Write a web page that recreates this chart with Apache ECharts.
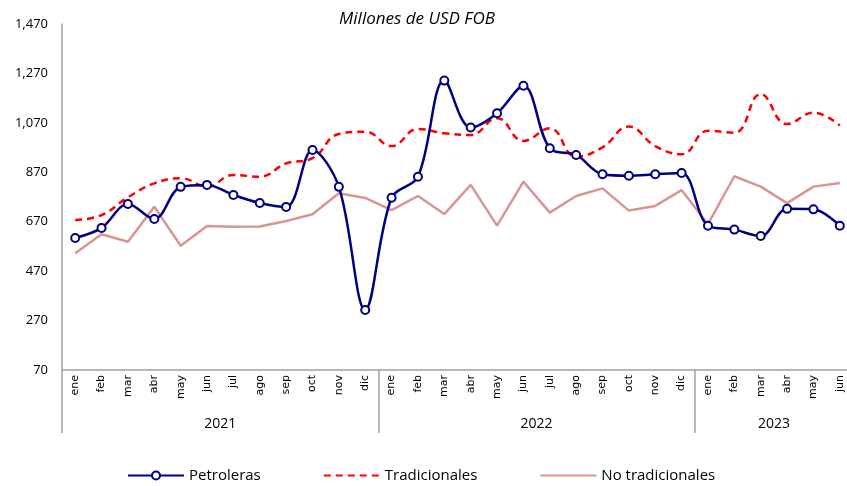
<!DOCTYPE html>
<html>
<head>
<meta charset="utf-8">
<script src="https://cdn.jsdelivr.net/npm/echarts@6/dist/echarts.min.js"></script>
<style>
html,body{margin:0;padding:0;background:#fff;}
#c{width:847px;height:486px;}
</style>
</head>
<body>
<div id="c"></div>
<script>
const months = ['ene','feb','mar','abr','may','jun','jul','ago','sep','oct','nov','dic',
  'ene','feb','mar','abr','may','jun','jul','ago','sep','oct','nov','dic',
  'ene','feb','mar','abr','may','jun'];
const years = ['2021','2022','2023'];
const yearLabelPos = [6, 18, 27];
const yearBounds = [0, 12, 24, 30];
const yTicks = [70, 270, 470, 670, 870, 1070, 1270, 1470];

const petroleras = [604,645,742,681,811,819,778,746,730,960,811,313,
  767,852,1241,1051,1109,1220,967,940,862,856,862,867,
  654,638,612,722,720,654];
const tradicionales = [677,697,769,825,846,812,859,852,906,927,1025,1034,
  976,1045,1028,1021,1089,997,1048,933,971,1055,976,943,
  1038,1030,1186,1065,1111,1059];
const noTradicionales = [542,619,589,731,573,653,650,651,673,700,785,766,
  717,774,701,819,654,832,707,774,805,715,734,798,
  660,854,812,745,812,827];

const chart = echarts.init(document.getElementById('c'), null, {renderer:'canvas'});
const narrow = 'Liberation Sans Narrow, Open Sans, sans-serif';
const hiddenSym = {color:'rgba(0,0,0,0)', borderWidth:0, opacity:0};
chart.setOption({
  animation:false,
  backgroundColor:'#ffffff',
  title:{
    text:'Millones de USD FOB',
    left:412, top:6, textAlign:'center',
    textStyle:{fontFamily:'Open Sans', fontStyle:'italic', fontWeight:'normal', fontSize:17, color:'#000'}
  },
  grid:{left:62, top:24, width:791, height:346, containLabel:false, outerBoundsMode:'none'},
  legend:{
    bottom:-2, left:122,
    itemWidth:56, itemHeight:10, itemGap:62,
    data:[{name:'Petroleras'},
          {name:'Tradicionales', itemStyle:hiddenSym},
          {name:'No tradicionales', itemStyle:hiddenSym}],
    textStyle:{fontFamily:narrow, fontSize:15, color:'#000'}
  },
  xAxis:[{
    type:'category', data:months, boundaryGap:true,
    axisLine:{lineStyle:{color:'#a0a0a0', width:1.5}},
    axisTick:{show:false},
    axisLabel:{rotate:90, interval:0, margin:5, color:'#000', fontFamily:'DejaVu Sans', fontSize:11}
  },{
    type:'value', min:0, max:30, position:'bottom',
    axisLine:{show:false},
    splitLine:{show:false},
    axisTick:{show:true, customValues:yearBounds, length:63, lineStyle:{color:'#a0a0a0', width:1.5}},
    axisLabel:{customValues:yearLabelPos, margin:47, color:'#000', fontFamily:narrow, fontSize:14,
      formatter:function(v){ return years[yearLabelPos.indexOf(v)] || ''; }}
  }],
  yAxis:{
    type:'value', min:70, max:1470, interval:200,
    axisLine:{show:true, lineStyle:{color:'#a0a0a0', width:1.5}},
    axisTick:{show:false},
    splitLine:{show:false},
    axisLabel:{margin:14, color:'#000', fontFamily:narrow, fontSize:13,
      formatter:function(v){ return v.toLocaleString('en-US'); }}
  },
  series:[{
    name:'Petroleras', type:'line', data:petroleras, smooth:0.35, z:4,
    symbol:'circle', symbolSize:8,
    itemStyle:{color:'#ffffff', borderColor:'#000080', borderWidth:2},
    lineStyle:{color:'#000080', width:2.5}
  },{
    name:'Tradicionales', type:'line', data:tradicionales, smooth:0.45, z:3,
    symbol:'none', itemStyle:{color:'#ff0000'},
    lineStyle:{color:'#ff0000', width:2.5, type:[7,5]}
  },{
    name:'No tradicionales', type:'line', data:noTradicionales, smooth:false, z:2,
    symbol:'none', itemStyle:{color:'#d99594'},
    lineStyle:{color:'#d99594', width:2.5}
  }]
});
</script>
</body>
</html>
